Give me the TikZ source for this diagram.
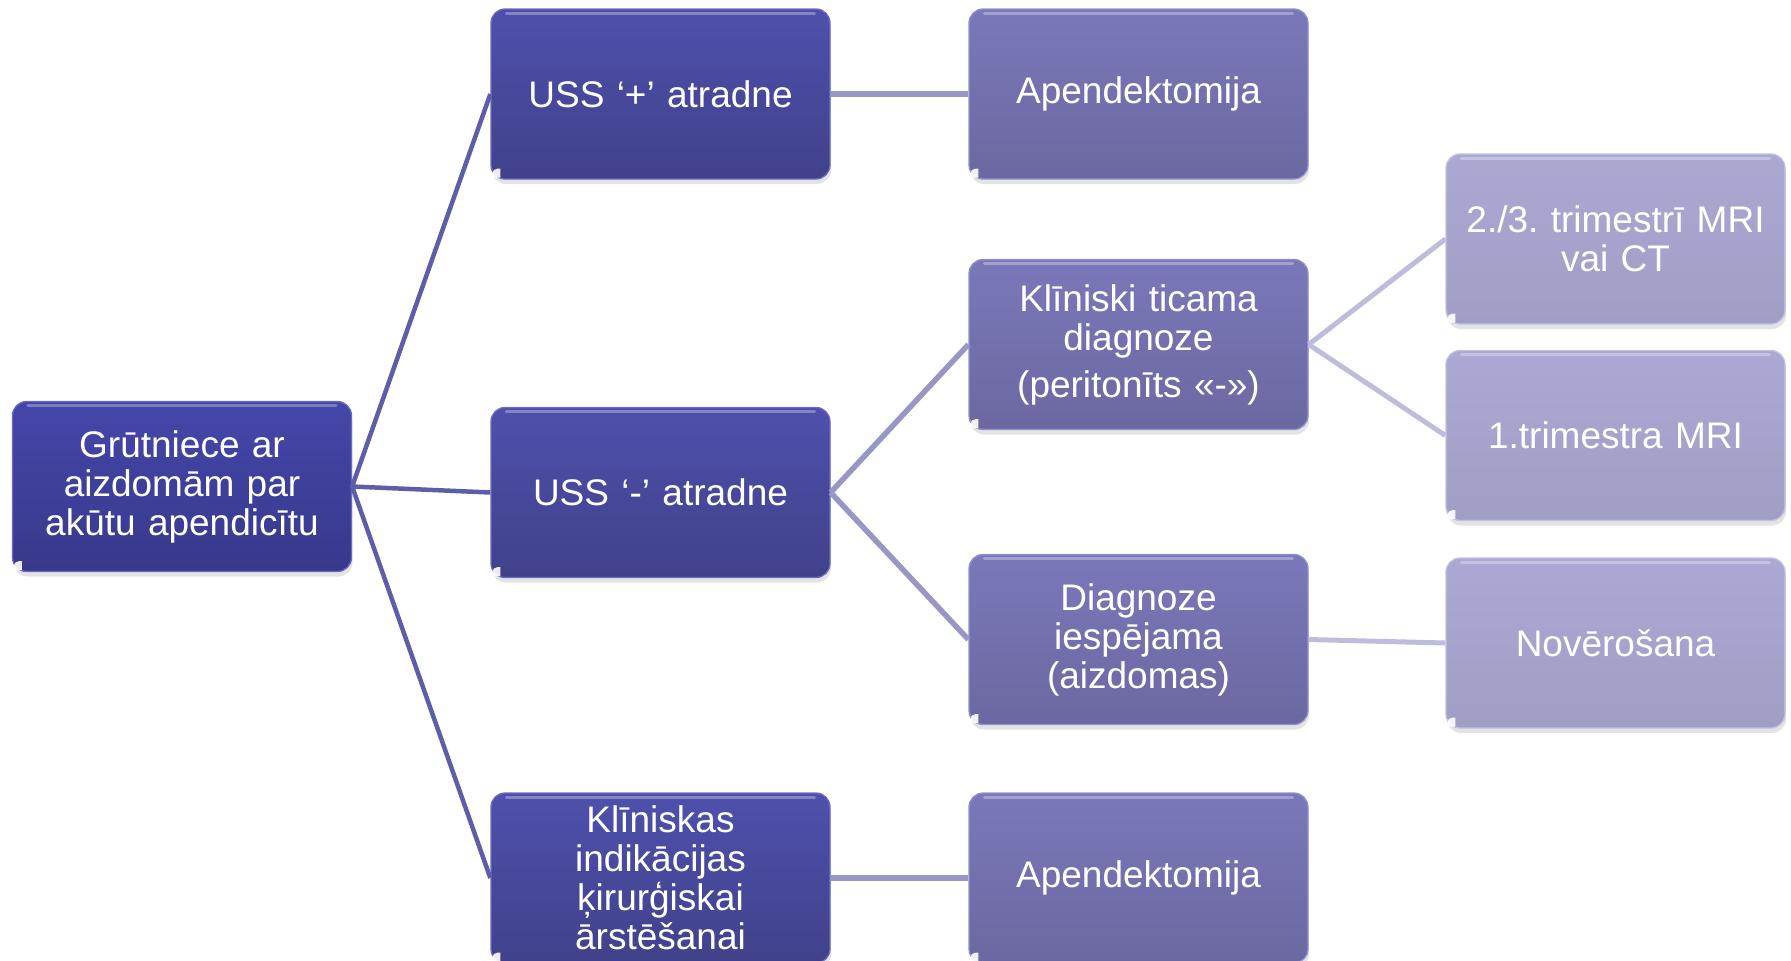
\documentclass[tikz,border=0pt]{standalone}
\usepackage{fontspec}
\setmainfont{Liberation Sans}
\usetikzlibrary{shadows}
\definecolor{RtTop}{HTML}{4546AA}
\definecolor{RtBot}{HTML}{38398A}
\definecolor{LaTop}{HTML}{4E50AC}
\definecolor{LaBot}{HTML}{41418A}
\definecolor{LaEdge}{HTML}{6A6BC8}
\definecolor{LbTop}{HTML}{7A78B9}
\definecolor{LbBot}{HTML}{6B68A1}
\definecolor{LbEdge}{HTML}{9290D0}
\definecolor{LcTop}{HTML}{ABA9D3}
\definecolor{LcBot}{HTML}{A09EC4}
\definecolor{LcEdge}{HTML}{C2C0E6}
\definecolor{EdA}{HTML}{5E5EA8}
\definecolor{EdB}{HTML}{9896C4}
\definecolor{EdC}{HTML}{BEBCDC}
\begin{document}
\frenchspacing
\begin{tikzpicture}[x=1pt,y=-1pt,
  box/.style={rounded corners=14pt, minimum width=339pt, minimum height=170pt,
    text width=330pt, align=center, inner sep=0pt, text=white,
    font=\fontsize{37pt}{39pt}\selectfont, line width=1.3pt,
    drop shadow={shadow xshift=1pt, shadow yshift=-5pt, opacity=0.22}},
  rootbox/.style={box, top color=RtTop, bottom color=RtBot, draw=LaEdge},
  boxa/.style={box, top color=LaTop, bottom color=LaBot, draw=LaEdge},
  boxb/.style={box, top color=LbTop, bottom color=LbBot, draw=LbEdge},
  boxc/.style={box, top color=LcTop, bottom color=LcBot, draw=LcEdge},
  linka/.style={draw=EdA, line width=4.5pt},
  linkb/.style={draw=EdB, line width=5.5pt},
  linkc/.style={draw=EdC, line width=5pt},
  gloss/.style={white, opacity=0.3, line width=3pt, line cap=round},
  cornermark/.style={white, opacity=0.9}
]
\useasboundingbox (0,0) rectangle (1791,961);

\node[rootbox] (root) at (182,486.5) {Grūtniece ar\\aizdomām par\\akūtu apendicītu};

\node[boxa] (ussp) at (660.5,94) {USS ‘+’ atradne};
\node[boxa] (ussm) at (660.5,492.5) {USS ‘-’ atradne};
\node[boxa] (klin) at (660.5,878) {Klīniskas\\indikācijas\\ķirurģiskai\\ārstēšanai};

\node[boxb] (apa) at (1138.5,94) {Apendektomija};
\node[boxb] (tic) at (1138.5,344.5) {Klīniski ticama\\diagnoze\\[8pt](peritonīts «-»)};
\node[boxb] (iesp) at (1138.5,639.5) {Diagnoze\\iespējama\\(aizdomas)};
\node[boxb] (apb) at (1138.5,878) {Apendektomija};

\node[boxc] (mri) at (1615.5,239) {2./3. trimestrī MRI\\vai CT};
\node[boxc] (mria) at (1615.5,435.5) {1.trimestra MRI};
\node[boxc] (nov) at (1615.5,643) {Novērošana};

\foreach \n in {root,ussp,ussm,klin,apa,tic,iesp,apb,mri,mria,nov}{
  \draw[gloss] ([xshift=16pt,yshift=-5pt]\n.north west) -- ([xshift=-16pt,yshift=-5pt]\n.north east);
  \fill[cornermark] ([xshift=2pt,yshift=2pt]\n.south west) [rounded corners=5pt] -- ++(0,-9) [sharp corners] -- ++(8,0) -- ++(0,9) -- cycle;
}

\draw[linka] (root.east) -- (ussp.west);
\draw[linka] (root.east) -- (ussm.west);
\draw[linka] (root.east) -- (klin.west);

\draw[linkb] (ussp.east) -- (apa.west);
\draw[linkb] (ussm.east) -- (tic.west);
\draw[linkb] (ussm.east) -- (iesp.west);
\draw[linkb] (klin.east) -- (apb.west);

\draw[linkc] (tic.east) -- (mri.west);
\draw[linkc] (tic.east) -- (mria.west);
\draw[linkc] (iesp.east) -- (nov.west);
\end{tikzpicture}
\end{document}
